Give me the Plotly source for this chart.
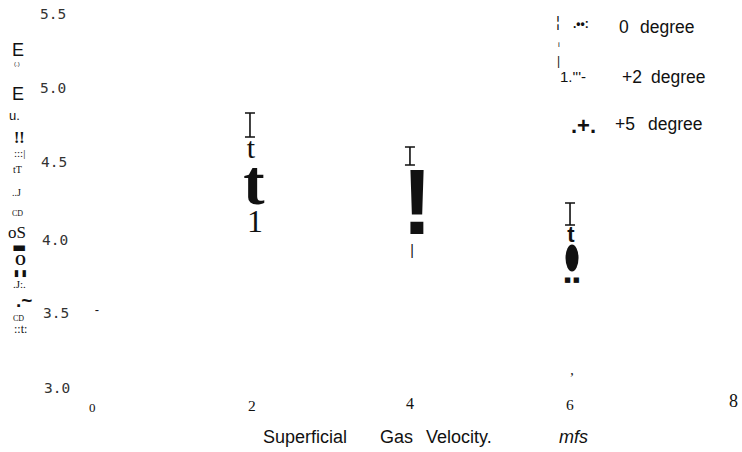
import plotly.graph_objects as go

# ---------------- data ----------------
velocity_ticks = [0, 2, 4, 6, 8]
velocity_tick_labels = ["0", "2", "4", "6", "8"]
holdup_ticks = [5.5, 5.0, 4.5, 4.0, 3.5, 3.0]
holdup_tick_labels = ["5.5", "5.0", "4.5", "4.0", "3.5", "3.0"]
series_names = ["0", "+2", "+5"]
axis_title_words = ["Superficial", "Gas", "Velocity.", "mfs"]

# upper error bars (drawn as the "T" caps)
cap_velocity = [1.981, 3.987, 5.994]
cap_low = [4.671, 4.482, 4.078]
cap_high = [4.833, 4.604, 4.226]

# scanned glyph marks
glyph_text = ["t", "t", "1", "!", "|", "t", "■ ■", ",", "-"]
glyph_velocity = [1.994, 2.031, 2.044, 4.075, 4.013, 6.006, 6.019, 6.019, 0.063]
glyph_holdup = [4.577, 4.330, 4.085, 4.170, 3.900, 4.004, 3.708, 3.094, 3.500]

# filled ellipse point
ellipse_velocity = [6.019]
ellipse_holdup = [3.856]

# ---------------- styles ----------------
SERIF = "Liberation Serif"
SANS = "Liberation Sans"
MONO = "DejaVu Sans Mono"
glyph_style = [
    (SERIF, 30, "normal"),
    (SERIF, 64, "bold"),
    (SERIF, 32, "normal"),
    (SANS, 92, "bold"),
    (SANS, 14, "normal"),
    (SANS, 22, "bold"),
    ("DejaVu Sans", 7, "normal"),
    (SERIF, 14, "normal"),
    (SANS, 13, "normal"),
]
W, H = 742, 452
X0_PX, X_SCALE = 92.0, 79.75
Y0_PX, Y_SCALE = 14.0, 148.4
x_range = [-X0_PX / X_SCALE, (W - X0_PX) / X_SCALE]
y_range = [5.5 - (H - Y0_PX) / Y_SCALE, 5.5 + Y0_PX / Y_SCALE]


def pxx(x):
    return x / W


def pxy(y):
    return 1 - y / H


fig = go.Figure()

# error-bar caps
fig.add_trace(go.Scatter(
    x=cap_velocity, y=cap_low, mode="markers",
    marker=dict(size=1, opacity=0),
    error_y=dict(type="data", symmetric=False,
                 array=[h - l for h, l in zip(cap_high, cap_low)],
                 arrayminus=[0] * len(cap_low),
                 width=5, thickness=1.6, color="#111"),
    showlegend=False, hoverinfo="skip"))

# glyph marks
for t, xv, yv, (fam, size, wt) in zip(glyph_text, glyph_velocity, glyph_holdup, glyph_style):
    fig.add_trace(go.Scatter(
        x=[xv], y=[yv], mode="text", text=[t], textposition="middle center",
        textfont=dict(family=fam, size=size, color="#111", weight=wt),
        showlegend=False, hoverinfo="skip"))

# ellipse
shapes = []
for xv, yv in zip(ellipse_velocity, ellipse_holdup):
    shapes.append(dict(type="circle", xref="x", yref="y",
                       xsizemode="pixel", ysizemode="pixel",
                       xanchor=xv, yanchor=yv,
                       x0=-6.5, x1=6.5, y0=-13.5, y1=13.5,
                       fillcolor="#111", line=dict(width=0)))

annotations = []
# y tick labels
ytick_nudge_x = [-1, -1, 0, 1, 2, 3]
ytick_nudge_y = [0, 0, 0, -3, -2, -3]
for v, lab, nx, ny in zip(holdup_ticks, holdup_tick_labels, ytick_nudge_x, ytick_nudge_y):
    annotations.append(dict(x=(54 - X0_PX) / X_SCALE, y=v, xref="x", yref="y",
                            text=lab, showarrow=False, xshift=nx, yshift=ny,
                            xanchor="center", yanchor="middle",
                            font=dict(family=MONO, size=14.5, color="#333")))
# x tick labels
xtick_size = [13, 15.5, 16, 15.5, 18]
xtick_nudge_x = [0, 0, -1, -1, 3]
xtick_nudge_y = [-2, 0, 2, 1, 4]
for v, lab, s, nx, ny in zip(velocity_ticks, velocity_tick_labels, xtick_size, xtick_nudge_x, xtick_nudge_y):
    annotations.append(dict(x=v, y=5.5 - (405 - Y0_PX) / Y_SCALE, xref="x", yref="y",
                            text=lab, showarrow=False, xshift=nx, yshift=ny,
                            xanchor="center", yanchor="middle",
                            font=dict(family=SERIF, size=s, color="#111")))

# axis title
title_pos = [305, 396, 459, 573]
for w, xp in zip(axis_title_words, title_pos):
    txt = "<i>%s</i>" % w if w == "mfs" else w
    annotations.append(dict(x=pxx(xp), y=pxy(437), xref="paper", yref="paper",
                            text=txt, showarrow=False, xanchor="center", yanchor="middle",
                            font=dict(family=SANS, size=18, color="#111")))

# legend (scanned)
legend_items = [
    ("¦", 558, 22, SANS, 15, "normal"),
    (".••:", 581, 24, SANS, 12, "bold"),
    (series_names[0], 624, 27, SANS, 17.5, "normal"),
    ("degree", 667, 27, SANS, 17.5, "normal"),
    ("i", 559, 44, SANS, 8, "normal"),
    ("|", 558, 61, SANS, 12, "normal"),
    ("1.'''-", 573, 76, SANS, 15, "normal"),
    (series_names[1], 632, 77, SANS, 17.5, "normal"),
    ("degree", 678, 77, SANS, 17.5, "normal"),
    (".+.", 583, 125, SANS, 22, "bold"),
    (series_names[2], 625, 124, SANS, 17.5, "normal"),
    ("degree", 675, 124, SANS, 17.5, "normal"),
]
for t, xp, yp, fam, s, wt in legend_items:
    annotations.append(dict(x=pxx(xp), y=pxy(yp), xref="paper", yref="paper",
                            text=t, showarrow=False, xanchor="center", yanchor="middle",
                            font=dict(family=fam, size=s, color="#111", weight=wt)))

# scanned y-axis label column
ylabel_items = [
    ("E", 18, 50, SANS, 18, "normal"),
    ("(.)", 17, 64, SANS, 6, "normal"),
    ("E", 18, 94, SANS, 18, "normal"),
    ("u.", 15, 116, SANS, 13, "normal"),
    ("!!", 19, 137, SERIF, 16, "bold"),
    (":::|", 19, 153, SERIF, 11, "normal"),
    ("tT", 17, 169, SERIF, 10, "normal"),
    ("..J", 16, 192, SERIF, 10, "normal"),
    ("CD", 17, 213, SERIF, 8, "normal"),
    ("oS", 17, 232, SERIF, 17, "normal"),
    ("▬", 19, 247, "DejaVu Sans", 15, "normal"),
    ("O", 20, 260, SERIF, 14, "bold"),
    ("▮ ▮", 20, 273, "DejaVu Sans", 9, "normal"),
    (".J:.", 19, 284, SERIF, 11, "normal"),
    (".~", 24, 300, SANS, 19, "bold"),
    ("CD", 18, 318, SERIF, 8, "normal"),
    ("::t:", 20, 329, SERIF, 12, "normal"),
]
for t, xp, yp, fam, s, wt in ylabel_items:
    annotations.append(dict(x=pxx(xp), y=pxy(yp), xref="paper", yref="paper",
                            text=t, showarrow=False, xanchor="center", yanchor="middle",
                            font=dict(family=fam, size=s, color="#111", weight=wt)))

fig.update_layout(
    width=W, height=H,
    margin=dict(l=0, r=0, t=0, b=0),
    paper_bgcolor="white", plot_bgcolor="white",
    xaxis=dict(range=x_range, visible=False, fixedrange=True),
    yaxis=dict(range=y_range, visible=False, fixedrange=True),
    shapes=shapes, annotations=annotations,
    showlegend=False,
)
fig.write_html("out.html", config={"displayModeBar": False},
               post_script="document.body.style.margin='0';document.body.style.overflow='hidden';")
